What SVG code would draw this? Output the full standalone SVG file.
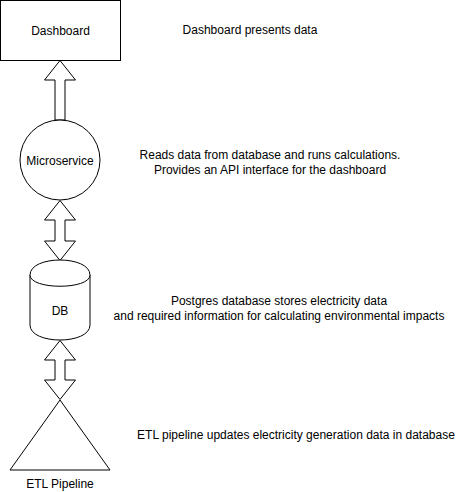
<svg xmlns="http://www.w3.org/2000/svg" width="466" height="492" viewBox="0 0 466 492">
<style>
.s{fill:#fff;stroke:#000;stroke-width:1}
.t{font-family:"Liberation Sans",Arial,sans-serif;font-size:12px;fill:#000;text-anchor:middle}
</style>
<rect width="466" height="492" fill="#fff"/>
<g id="connectors">
<path class="s" d="M60 60.5 L75.5 80 L65 80 L65 120 L55 120 L55 80 L44.5 80 Z"/>
<path class="s" d="M60 200.5 L75.5 220 L65 220 L65 241 L75.5 241 L60 260.5 L44.5 241 L55 241 L55 220 L44.5 220 Z"/>
<path class="s" d="M60 340.5 L75.5 360 L65 360 L65 380 L75.5 380 L60 399.5 L44.5 380 L55 380 L55 360 L44.5 360 Z"/>
</g>
<g id="dashboard">
<rect class="s" x="0.5" y="0.5" width="120" height="60"/>
<text class="t" x="60.5" y="34.5">Dashboard</text>
</g>
<g id="microservice">
<circle class="s" cx="60" cy="160" r="40"/>
<text class="t" x="60" y="164.5">Microservice</text>
</g>
<g id="db">
<path class="s" d="M30 275 C30 255 90 255 90 275 L90 325 C90 345 30 345 30 325 Z"/>
<path class="s" fill="none" d="M30 275 C30 290 90 290 90 275"/>
<text class="t" x="60" y="314.5">DB</text>
</g>
<g id="etl">
<path class="s" d="M60 400 L110 470 L10 470 Z"/>
<text class="t" x="60" y="488">ETL Pipeline</text>
</g>
<g id="note-dashboard"><text class="t" x="250" y="34">Dashboard presents data</text></g>
<g id="note-microservice">
<text class="t" x="270" y="159">Reads data from database and runs calculations.</text>
<text class="t" x="270" y="174">Provides an API interface for the dashboard</text>
</g>
<g id="note-db">
<text class="t" x="279" y="305">Postgres database stores electricity data</text>
<text class="t" x="279" y="320">and required information for calculating environmental impacts</text>
</g>
<g id="note-etl"><text class="t" x="296" y="439">ETL pipeline updates electricity generation data in database</text></g>
</svg>
